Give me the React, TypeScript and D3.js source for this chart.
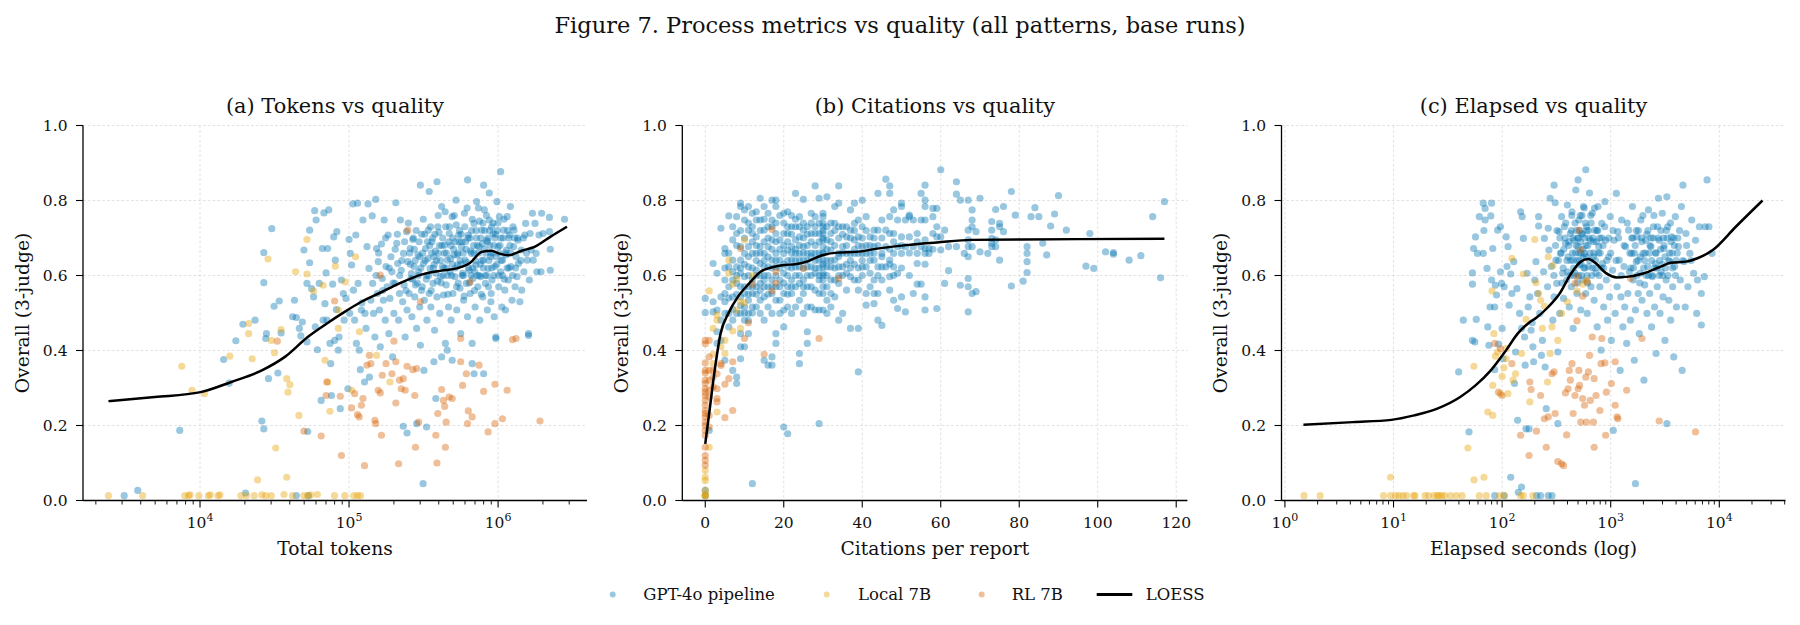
import React from 'react';
import * as d3 from 'd3';

const FONT = '"DejaVu Serif", serif';
const COLORS: Record<string, string> = { gpt: '#0072B2', local: '#E69F00', rl: '#D55E00' };
const SERIES = [
  { key: 'gpt', name: 'GPT-4o pipeline' },
  { key: 'local', name: 'Local 7B' },
  { key: 'rl', name: 'RL 7B' },
];
const Y_TICKS = [0, 0.2, 0.4, 0.6, 0.8, 1.0];
const SUPTITLE = 'Figure 7. Process metrics vs quality (all patterns, base runs)';
const Y_LABEL = 'Overall (3-judge)';

// ---------- Panel (a): total tokens vs quality ----------
const aGpt: [number, number][] = [
  [3100,.013],[3820,.027],[7310,.187],[15700,.313],[14400,.376],[17400,.426],[19400,.47],[23400,.481],[20200,.02],[26800,.581],[26800,.661],[30300,.725],[26000,.212],[26800,.191],[27600,.432],[27900,.445],[28800,.325],[31400,.518],[34000,.532],[35000,.447],[33300,.34],[44300,.013],[41800,.49],[43000,.534],[44300,.488],[46400,.459],[47500,.439],[48600,.476],[49800,.668],[52200,.579],[52200,.423],[52800,.184],[53500,.013],[54400,.721],[54400,.634],[56100,.565],[57800,.543],[58800,.773],[59400,.463],[60100,.748],[61300,.402],[63100,.579],[65000,.267],[66200,.672],[67000,.481],[67800,.767],[68900,.525],[70100,.607],[71000,.481],[71800,.672],[73100,.775],[74500,.419],[75300,.365],[76200,.28],[77600,.577],[78900,.703],[80000,.427],[80900,.641],[82200,.509],[82800,.717],[84700,.401],[85700,.436],[87300,.245],[88900,.588],[91600,.552],[92700,.481],[95300,.539],[98200,.298],[100000,.696],[101000,.499],[102000,.659],[104000,.628],[106000,.791],[107000,.561],[109000,.481],[111000,.708],[112000,.419],[114000,.793],[115000,.579],[117000,.401],[119000,.349],[121000,.508],[122000,.527],[124000,.748],[127000,.316],[128000,.499],[130000,.459],[132000,.677],[134000,.791],[136000,.619],[137000,.329],[140000,.534],[143000,.759],[144000,.579],[146000,.499],[149000,.436],[151000,.803],[153000,.672],[155000,.552],[157000,.637],[160000,.508],[162000,.41],[165000,.684],[167000,.592],[170000,.534],[172000,.748],[175000,.481],[177000,.624],[180000,.57],[183000,.708],[185000,.445],[188000,.539],[191000,.65],[194000,.61],[196000,.383],[200000,.499],[203000,.579],[206000,.794],[209000,.686],[212000,.632],[215000,.481],[218000,.552],[221000,.748],[224000,.614],[229000,.53],[232000,.659],[234000,.575],[238000,.436],[243000,.717],[245000,.508],[248000,.637],[253000,.552],[257000,.672],[260000,.592],[264000,.49],[268000,.696],[273000,.624],[276000,.543],[279000,.575],[284000,.459],[290000,.655],[293000,.61],[298000,.516],[301000,.841],[301000,.414],[307000,.71],[310000,.57],[314000,.045],[316000,.632],[320000,.534],[326000,.672],[330000,.59],[333000,.481],[340000,.721],[345000,.552],[345000,.824],[350000,.619],[354000,.516],[360000,.69],[366000,.579],[371000,.65],[375000,.454],[382000,.606],[389000,.85],[389000,.543],[394000,.73],[398000,.659],[406000,.499],[412000,.597],[418000,.784],[423000,.624],[430000,.548],[438000,.681],[443000,.419],[448000,.575],[456000,.641],[465000,.516],[470000,.712],[475000,.61],[484000,.481],[492000,.757],[498000,.552],[505000,.655],[513000,.597],[522000,.801],[528000,.508],[535000,.628],[544000,.708],[555000,.566],[561000,.445],[568000,.677],[578000,.606],[587000,.534],[594000,.766],[601000,.641],[612000,.579],[624000,.855],[624000,.49],[631000,.708],[638000,.614],[650000,.552],[662000,.659],[670000,.365],[678000,.592],[689000,.739],[701000,.516],[710000,.628],[718000,.797],[731000,.57],[745000,.677],[753000,.481],[762000,.597],[776000,.721],[789000,.543],[800000,.841],[800000,.641],[809000,.775],[822000,.579],[838000,.694],[847000,.508],[857000,.619],[873000,.82],[873000,.748],[889000,.65],[899000,.552],[910000,.588],[927000,.712],[942000,.49],[953000,.624],[966000,.432],[982000,.797],[1000000,.677],[1010000,.57],[1020000,.757],[1040000,.877],[1040000,.61],[1060000,.516],[1070000,.641],[1090000,.721],[1110000,.561],[1120000,.508],[1140000,.668],[1150000,.757],[1170000,.588],[1190000,.708],[1210000,.784],[1220000,.624],[1240000,.534],[1270000,.677],[1280000,.721],[1300000,.57],[1320000,.65],[1340000,.597],[1360000,.694],[1370000,.632],[1400000,.53],[1430000,.668],[1440000,.561],[1490000,.61],[1510000,.708],[1530000,.739],[1570000,.641],[1600000,.445],[1620000,.588],[1640000,.712],[1670000,.668],[1700000,.766],[1720000,.641],[1770000,.739],[1800000,.659],[1820000,.61],[1880000,.708],[1940000,.61],[1960000,.766],[2000000,.712],[2210000,.755],[2210000,.717],[2240000,.67],[2240000,.614],[2790000,.75],
  [231000,.198],[245000,.18],[284000,.205],[331000,.196],[382000,.272],[318000,.347],[371000,.37],[418000,.383],[456000,.401],[492000,.374],[670000,.419],[800000,.338],[690000,.338],[966000,.436],[1600000,.44],
  [255000,.66],[262000,.605],[270000,.7],[278000,.64],[287000,.58],[295000,.69],[303000,.62],[312000,.66],[322000,.71],[332000,.6],[338000,.645],[348000,.68],[356000,.56],[364000,.7],[373000,.63],[380000,.665],[392000,.585],[401000,.715],[410000,.64],[420000,.68],[428000,.6],[436000,.66],[445000,.73],[452000,.62],[461000,.55],[468000,.69],[480000,.645],[488000,.6],[496000,.7],[503000,.67],[515000,.62],[524000,.735],[532000,.655],[540000,.58],[548000,.69],[557000,.64],[566000,.71],[575000,.6],[583000,.66],[592000,.545],[605000,.69],[615000,.635],[628000,.7],[640000,.58],[655000,.665],[665000,.72],[675000,.62],[685000,.68],[695000,.56],[705000,.64],[715000,.7],[728000,.6],[740000,.66],[750000,.745],[760000,.63],[772000,.55],[785000,.685],[795000,.62],[812000,.72],[826000,.66],[840000,.6],[855000,.7],[868000,.64],[880000,.68],[895000,.53],[905000,.73],[920000,.66],[935000,.6],[950000,.7],[970000,.65],[990000,.72],[1005000,.6],[1030000,.68],[1050000,.64],[1080000,.7],[1100000,.59],[1130000,.655],[1160000,.72],[1180000,.62],[1200000,.68],[1250000,.6],[1290000,.7],
  [152000,.6],[158000,.66],[168000,.56],[176000,.7],[186000,.62],[197000,.58],[204000,.67],[211000,.71],[219000,.6],[226000,.64],[236000,.69],[241000,.56],[250000,.74],[258000,.63],[266000,.59],[274000,.67],[282000,.72],[291000,.6],[299000,.65],[306000,.56],[315000,.75],[324000,.64],[336000,.69],[342000,.6],[352000,.73],[358000,.66],[368000,.62],[377000,.71],[386000,.64],[396000,.76],[404000,.68],[414000,.58],[425000,.7],[433000,.62],[441000,.77],[450000,.66],[458000,.6],[472000,.73],[483000,.68],[494000,.63],[508000,.76],[518000,.69],[527000,.57],[538000,.66],[551000,.72],[563000,.63],[572000,.69],[586000,.6],[598000,.73],[610000,.67],[620000,.78],[634000,.62],[647000,.7],[659000,.6],[672000,.75],[687000,.66],[698000,.61],[712000,.72],[725000,.68],[738000,.78],[748000,.6],[766000,.7],[779000,.64],[792000,.74],[806000,.67],[820000,.6],[836000,.76],[850000,.69],[862000,.57],[876000,.72],[892000,.66],[908000,.62],[925000,.74],[940000,.68],[960000,.71],[980000,.63],[998000,.74],[1020000,.66],[1045000,.7],[1070000,.6],[1095000,.75],[1120000,.66],[1150000,.62],[1180000,.7],[1215000,.66],[1260000,.73],[1310000,.62],[1350000,.7],[1420000,.64],[1480000,.7],[1550000,.66],
];
const aLocal: [number, number][] = [
  [2430,.013],[4120,.013],[7900,.013],[8380,.013],[8580,.015],[9830,.013],[11370,.013],[11730,.015],[13200,.013],[13600,.015],[18800,.013],[20500,.013],[23100,.013],[26000,.015],[27600,.013],[30100,.013],[36600,.016],[41700,.013],[49800,.013],[52800,.013],[55400,.015],[61300,.016],[79900,.013],[93700,.013],[107400,.013],[113900,.013],[119400,.013],
  [7540,.358],[8840,.294],[10700,.285],[15850,.385],[21200,.445],[22400,.378],[24300,.055],[28600,.644],[31600,.394],[32200,.14],[35000,.456],[38200,.325],[38900,.289],[40100,.309],[38200,.062],[46100,.227],[43800,.61],[52200,.696],[52200,.604],[57800,.559],[67000,.574],[68900,.374],[71800,.316],[74400,.238],[80900,.625],[84800,.508],[84800,.459],[94200,.583],[110600,.65],[117300,.45],[104200,.294],[153000,.387],[188000,.316],[21200,.472],[30100,.427],
];
const aRl: [number, number][] = [
  [33000,.425],[49800,.185],[65000,.172],[71000,.316],[70200,.28],[80000,.532],[87300,.278],[88900,.12],[104000,.247],[109000,.285],[114000,.229],[117000,.223],[121000,.254],[124000,.272],[127000,.093],[132000,.361],[137000,.387],[140000,.365],[149000,.214],[151000,.205],[157000,.294],[162000,.287],[165000,.174],[167000,.334],[162000,.601],[177000,.365],[200000,.425],[194000,.338],[206000,.37],[206000,.26],[215000,.098],[218000,.321],[224000,.298],[231000,.325],[238000,.294],[245000,.358],[248000,.721],[268000,.349],[276000,.28],[279000,.142],[284000,.352],[293000,.209],[301000,.53],[382000,.174],[389000,.1],[394000,.232],[418000,.296],[430000,.267],[438000,.251],[443000,.142],[448000,.209],[470000,.276],[492000,.272],[561000,.37],[578000,.307],[612000,.338],[624000,.205],[631000,.239],[650000,.583],[670000,.223],[745000,.361],[800000,.291],[857000,.183],[953000,.31],[953000,.205],[1070000,.218],[1150000,.294],[1250000,.429],[1320000,.432],[1910000,.212],[561000,.432],
];
const aLoess: [number, number][] = [
  [2430,.265],[4980,.276],[10100,.289],[16200,.316],[26000,.347],[37100,.383],[52800,.436],[71000,.472],[90000,.499],[121000,.53],[162000,.554],[218000,.579],[310000,.603],[418000,.613],[528000,.619],[650000,.634],[776000,.663],[899000,.666],[1010000,.659],[1170000,.654],[1440000,.666],[1770000,.677],[2240000,.703],[2900000,.73],
];
const aXLimits = [1640, 3.95e6];
const aXTicks = [1e4, 1e5, 1e6];

// ---------- Panel (b): citations vs quality (columns: citations -> scores) ----------
const bGptCols: [number, number[]][] = [
  [0,[.539,.501,.027,.013]],[1,[.187]],[2,[.632,.53,.503]],[3,[.606,.45,.419,.508]],[4,[.726,.543,.481,.427]],
  [5,[.672,.659,.588,.552,.499,.374]],[6,[.759,.623,.57,.499,.463]],[7,[.73,.695,.641,.588,.543,.481,.347]],
  [8,[.757,.712,.623,.579,.499,.329,.312]],[9,[.793,.784,.677,.641,.606,.543,.499,.445,.41,.378]],
  [10,[.775,.748,.659,.597,.552,.516,.481,.41]],[11,[.784,.721,.677,.623,.57,.534,.499,.445]],
  [12,[.766,.712,.659,.588,.552,.516,.045]],[13,[.748,.703,.659,.614,.57,.516]],[14,[.806,.748,.677,.632,.579,.534,.499]],
  [15,[.784,.721,.659,.623,.588,.543,.481,.374]],[16,[.766,.73,.677,.623,.57,.516,.361]],
  [17,[.801,.748,.695,.641,.588,.552,.499,.383,.361]],[18,[.801,.784,.712,.659,.623,.534,.445,.419]],
  [19,[.695,.641,.588,.534,.499]],[20,[.766,.712,.659,.606,.552,.508,.463,.196]],[21,[.77,.712,.668,.623,.57,.516,.178]],
  [22,[.73,.677,.641,.588,.552,.499]],[23,[.819,.73,.695,.659,.623,.57,.516]],[24,[.757,.703,.659,.623,.579,.534,.392,.365]],
  [25,[.803,.721,.677,.641,.588,.552,.499]],[26,[.73,.659,.623,.57,.516,.45,.419]],[27,[.766,.712,.65,.623,.57,.516]],
  [28,[.839,.757,.712,.659,.606,.561,.508]],[29,[.806,.712,.641,.588,.552,.508,.205]],
  [30,[.766,.757,.739,.73,.712,.695,.677,.659,.641,.623,.606,.588,.57,.552,.508]],
  [31,[.81,.695,.623,.57,.534,.499]],[32,[.712,.668,.623,.588,.552,.516]],[33,[.784,.739,.641,.588,.543]],
  [34,[.839,.793,.73,.659,.623,.579,.481]],[35,[.73,.677,.623,.499]],[36,[.703,.659,.606,.561]],
  [37,[.775,.721,.659,.597,.459]],[38,[.793,.739,.695,.659,.588]],[39,[.748,.703,.659,.588,.561,.459,.343]],
  [40,[.801,.73,.677,.659,.623]],[41,[.757,.659,.623,.552,.521]],[42,[.703,.659,.606,.57]],
  [43,[.721,.677,.641,.588,.552,.525]],[44,[.819,.721,.623,.552,.481]],[45,[.748,.659,.623,.588,.467]],
  [46,[.857,.721,.677,.623]],[47,[.839,.819,.757,.712,.641,.597,.561]],[48,[.775,.712,.659,.623,.534]],
  [49,[.748,.677,.606,.512]],[50,[.793,.784,.703,.659,.543]],[51,[.748,.677,.503]],[52,[.761,.757,.703]],
  [53,[.748,.677,.552]],[54,[.712,.659,.632,.577]],[55,[.819,.748,.677,.577]],
  [56,[.841,.801,.784,.748,.695,.672,.659,.543,.508]],[57,[.672,.659]],[58,[.779,.757,.712]],[59,[.779,.73,.703,.512]],
  [60,[.882,.703,.668]],[61,[.721,.579]],[62,[.677,.613]],[64,[.85,.817,.677]],[65,[.801,.574]],[66,[.659]],
  [67,[.801,.721,.695,.677,.65,.592,.57,.503]],[68,[.775,.748,.73,.677,.552]],[69,[.717,.557]],[70,[.806,.663]],
  [72,[.659]],[73,[.744,.721,.699,.686,.677]],[74,[.776,.695,.677]],[75,[.739,.73,.641]],[76,[.784,.717]],
  [78,[.824,.572]],[79,[.761]],[81,[.585]],[82,[.677,.659,.637,.608]],[83,[.757]],[84,[.781]],[85,[.757]],
  [86,[.686]],[87,[.655]],[88,[.732]],[89,[.764]],[90,[.813]],[92,[.721]],[97,[.625]],[98,[.712]],[99,[.619]],
  [102,[.663]],[104,[.661,.657]],[108,[.641]],[111,[.653]],[114,[.757]],[116,[.594]],[117,[.797]],
];
const bGptColsDense: [number, number[]][] = [
  [5,[.62,.53]],[6,[.66,.54]],[7,[.61,.51]],[8,[.68,.55,.6]],[9,[.72,.62,.57,.52]],[10,[.7,.63,.57,.5]],
  [11,[.74,.65,.6,.55,.48]],[12,[.73,.69,.62,.57,.5]],[13,[.77,.68,.64,.6,.55]],[14,[.72,.66,.6,.56]],
  [15,[.75,.69,.64,.6,.57]],[16,[.7,.65,.6,.55]],[17,[.73,.67,.62,.57]],[18,[.74,.69,.64,.6,.57]],
  [19,[.76,.67,.62,.57]],[20,[.74,.68,.63,.58]],[21,[.73,.69,.64,.6,.55]],[22,[.76,.71,.66,.62,.57]],
  [23,[.75,.67,.64,.6]],[24,[.73,.68,.64,.6]],[25,[.74,.7,.66,.62,.57]],[26,[.71,.68,.64,.6]],
  [27,[.74,.69,.66,.6]],[28,[.73,.68,.64,.62]],[29,[.74,.69,.66,.62,.6]],[30,[.72,.7,.66,.63,.6]],
  [31,[.73,.67,.64,.6]],[32,[.74,.69,.64]],[33,[.72,.68,.62]],[34,[.7,.65,.6]],[35,[.71,.66,.6]],
  [36,[.73,.68,.63]],[37,[.7,.64,.62]],[38,[.72,.67,.63]],[39,[.68,.62]],[40,[.7,.64,.6]],[41,[.72,.68]],
  [42,[.68,.64]],[43,[.7,.66]],[44,[.68,.6]],[45,[.7,.65]],[47,[.67,.63]],[48,[.69,.6]],[50,[.68,.62]],
  [52,[.66,.6]],[54,[.69]],[56,[.63]],[58,[.67]],
];
const bLocalCols: [number, number[]][] = [
  [0,[.013,.013,.015,.027,.053,.062,.08]],[1,[.559,.142]],[2,[.39,.365,.459]],[3,[.236,.481,.495]],[4,[.41]],
  [5,[.392,.427]],[6,[.606,.641]],[7,[.452,.577]],[8,[.508,.59]],[9,[.53,.459]],[10,[.695,.527]],[12,[.6]],
];
const bRlCols: [number, number[]][] = [
  [0,[.427,.418,.367,.347,.34,.321,.312,.298,.289,.28,.267,.254,.24,.232,.223,.209,.2,.187,.174,.142,.12,.107,.094]],
  [1,[.427,.383,.347,.321,.294,.276,.227,.196]],[2,[.347,.329,.303]],[3,[.338,.298,.272,.263]],[4,[.365,.36]],
  [5,[.31,.221]],[6,[.325]],[7,[.37,.24]],[9,[.672]],[10,[.432]],[11,[.474]],[12,[.577]],[15,[.39]],
  [17,[.723,.559]],[18,[.61,.58]],[25,[.619]],[29,[.432]],[34,[.592]],
];
const bLoess: [number, number][] = [
  [0,.151],[1,.232],[2.4,.347],[3.9,.445],[5.9,.499],[8.3,.543],[11.2,.579],[14.1,.61],[17.1,.622],[20,.628],[22.9,.63],[25.9,.637],[29.8,.654],[33.7,.661],[38.5,.663],[43.4,.671],[51.2,.681],[59,.688],[67.8,.695],[80.5,.696],[95.1,.697],[117,.698],
];
const bXLimits = [-5.85, 122.85];
const bXTicks = [0, 20, 40, 60, 80, 100, 120];

// ---------- Panel (c): elapsed seconds vs quality ----------
const cGpt: [number, number][] = [
  [53.3,.577],[53.3,.607],[54.6,.672],[56,.423],[56.9,.703],[57.8,.483],[61.7,.757],[67,.793],[67,.659],[69.7,.779],[69.7,.748],[68,.72],[72.6,.619],[73.8,.463],[75.5,.414],[77.4,.516],[78.7,.759],[80,.793],[80,.588],[82,.672],[85.4,.516],[85.4,.349],[86.7,.574],[88.9,.548],[91,.721],[92.6,.417],[96.5,.73],[96.5,.61],[98.8,.579],[100,.459],[102,.378],[104.5,.57],[109,.703],[111,.624],[113.5,.677],[116,.521],[120,.604],[123,.552],[128,.637],[130,.312],[133,.396],[137,.565],[139,.214],[141,.022],[145,.499],[148,.77],[151,.459],[153,.757],[157,.699],[161,.436],[163,.361],[166,.191],[170,.606],[174,.516],[177,.191],[180,.543],[185,.454],[189,.474],[192,.41],[195,.37],[200,.588],[205,.637],[208,.013],[212,.552],[217,.757],[217,.732],[222,.499],[226,.013],[230,.387],[235,.427],[241,.61],[245,.699],[249,.356],[255,.245],[262,.57],[266,.726],[266,.013],[270,.668],[277,.806],[284,.624],[288,.013],[293,.481],[301,.841],[301,.543],[308,.794],[313,.641],[318,.579],[326,.396],[334,.717],[339,.499],[344,.659],[353,.757],[361,.606],[368,.539],[374,.73],[383,.686],[393,.588],[399,.788],[405,.65],[415,.516],[425,.712],[433,.57],[440,.77],[451,.641],[451,.459],[461,.694],[469,.606],[477,.828],[489,.552],[501,.677],[501,.855],[509,.748],[517,.628],[530,.508],[543,.712],[552,.588],[561,.784],[574,.659],[589,.552],[589,.882],[598,.73],[608,.499],[623,.624],[638,.82],[649,.694],[659,.57],[676,.766],[693,.65],[704,.534],[716,.721],[733,.606],[751,.463],[764,.784],[776,.677],[795,.57],[815,.401],[828,.739],[841,.632],[862,.516],[884,.797],[898,.694],[912,.588],[935,.481],[958,.65],[975,.543],[991,.757],[1014,.427],[1040,.614],[1056,.187],[1074,.694],[1100,.499],[1127,.819],[1146,.57],[1164,.717],[1194,.641],[1222,.347],[1242,.543],[1262,.748],[1294,.463],[1325,.624],[1346,.516],[1370,.677],[1403,.419],[1438,.552],[1462,.721],[1486,.61],[1521,.481],[1559,.659],[1585,.784],[1611,.588],[1651,.374],[1690,.045],[1690,.508],[1718,.637],[1746,.703],[1790,.552],[1835,.445],[1864,.606],[1895,.748],[1941,.534],[1990,.659],[2023,.321],[2055,.575],[2105,.694],[2158,.499],[2193,.624],[2228,.775],[2285,.552],[2344,.677],[2377,.463],[2417,.597],[2477,.73],[2536,.516],[2577,.632],[2618,.392],[2685,.57],[2752,.806],[2798,.694],[2844,.499],[2913,.61],[2985,.766],[3033,.543],[3083,.672],[3160,.427],[3238,.588],[3290,.81],[3290,.205],[3343,.73],[3427,.534],[3511,.637],[3567,.481],[3629,.703],[3718,.57],[3807,.383],[3872,.624],[3935,.757],[4031,.516],[4198,.677],[4373,.588],[4479,.784],[4550,.347],[4624,.841],[4739,.637],[4857,.516],[4935,.712],[5140,.57],[5357,.659],[5575,.748],[5807,.606],[6040,.694],[6192,.499],[6295,.588],[6558,.73],[6830,.552],[6830,.468],[7283,.597],[7410,.73],[7711,.855],[8030,.73],[8570,.659],
  [39.8,.343],[43.9,.481],[49.6,.183],[53.3,.427],[59.3,.659],[120,.062],[85.4,.013],[104.5,.013],[151,.036],[326,.205],
  [350,.66],[365,.62],[380,.7],[395,.64],[410,.68],[420,.6],[435,.72],[445,.66],[455,.62],[470,.74],[480,.68],[490,.64],[498,.7],[505,.6],[512,.66],[520,.72],[528,.69],[535,.63],[545,.76],[555,.67],[565,.62],[575,.7],[585,.74],[595,.65],[605,.6],[615,.68],[625,.72],[640,.64],[655,.76],[670,.6],[685,.7],[700,.66],[720,.62],[740,.69],[760,.72],[780,.6],[800,.66],[830,.7],[860,.62],[1500,.66],[1560,.7],[1620,.62],[1680,.68],[1740,.6],[1800,.72],[1870,.65],[1940,.69],[2010,.62],[2080,.66],[2150,.71],[2230,.6],[2300,.68],[2380,.64],[2460,.7],[2540,.62],[2620,.66],[2700,.73],[2790,.6],[2880,.67],[2970,.63],[3060,.7],[3160,.65],[3260,.72],[3360,.6],[3480,.66],[3600,.69],[3720,.62],[3850,.68],[4000,.64],[4150,.7],
  [300,.6],[310,.68],[320,.72],[330,.64],[340,.7],[355,.58],[370,.67],[385,.74],[400,.61],[412,.69],[428,.64],[438,.76],[448,.7],[460,.6],[474,.66],[484,.72],[494,.58],[503,.7],[515,.64],[524,.76],[532,.66],[540,.6],[550,.71],[560,.65],[570,.78],[580,.62],[592,.68],[602,.72],[612,.58],[630,.7],[645,.66],[660,.74],[680,.62],[695,.69],[710,.78],[725,.64],[745,.72],[770,.66],[790,.7],[820,.62],[850,.68],[880,.73],[920,.64],[960,.7],[1000,.66],[1050,.72],[1120,.64],[1180,.7],[1250,.6],[1330,.68],[1420,.74],[1530,.62],[1600,.7],[1650,.66],[1720,.72],[1780,.64],[1850,.58],[1920,.7],[1980,.76],[2050,.64],[2120,.6],[2200,.72],[2270,.66],[2350,.7],[2420,.6],[2500,.76],[2580,.66],[2660,.62],[2740,.7],[2820,.64],[2900,.72],[3000,.6],[3100,.68],[3200,.62],[3300,.7],[3420,.64],[3550,.74],[3680,.66],[3800,.7],[3950,.6],[4100,.66],[4300,.72],[4600,.64],[5000,.68],[5500,.64],
];
const cLocal: [number, number][] = [
  [1.5,.013],[2.11,.013],[8.1,.013],[9.4,.013],[10.4,.013],[11.2,.013],[12.2,.013],[13.2,.013],[15.3,.013],[15.8,.013],[19.5,.013],[21.1,.013],[23.7,.013],[25.3,.013],[26.3,.013],[27.9,.013],[29.7,.013],[33.6,.013],[37.9,.013],[42.8,.013],[61.7,.013],[71.4,.013],[94.1,.013],[104.5,.013],[148,.013],[157,.013],[192,.013],
  [9.4,.062],[55.1,.055],[68,.062],[48.4,.14],[55,.358],[73.8,.236],[82,.227],[80.7,.559],[82,.307],[84,.445],[86.7,.385],[91,.396],[96.5,.285],[100,.331],[104,.354],[109,.378],[113,.285],[109,.405],[123,.646],[126,.321],[133,.338],[151,.392],[157,.604],[166,.483],[180,.263],[200,.696],[205,.581],[217,.552],[226,.534],[235,.459],[245,.518],[262,.316],[266,.65],[277,.392],[288,.463],[293,.627],[326,.427],[353,.499],[399,.53],[489,.559],[552,.577],[598,.588],
];
const cRl: [number, number][] = [
  [85.4,.419],[96.5,.405],[92.6,.289],[100,.28],[123,.365],[148,.174],[177,.12],[180,.316],[185,.296],[207,.185],[226,.28],[245,.218],[255,.142],[266,.223],[288,.338],[301,.343],[308,.232],[326,.104],[353,.098],[368,.093],[383,.287],[393,.175],[405,.298],[415,.347],[425,.321],[440,.365],[451,.232],[469,.28],[489,.479],[501,.298],[509,.347],[517,.307],[530,.209],[552,.272],[574,.254],[589,.329],[598,.209],[623,.343],[638,.387],[649,.267],[676,.436],[693,.209],[704,.325],[733,.28],[795,.24],[815,.365],[828,.432],[884,.367],[898,.174],[704,.142],[912,.289],[1014,.312],[1100,.37],[1146,.223],[1164,.218],[1100,.254],[1403,.294],[1521,.592],[1941,.432],[2798,.212],[6040,.183],[509,.721],[530,.668],[489,.597],[469,.579],[552,.545],[608,.583],
];
const cLoess: [number, number][] = [
  [1.48,.202],[4.24,.209],[9.55,.215],[15.5,.227],[25.3,.245],[41.1,.276],[56.9,.307],[78.7,.347],[109,.401],[139,.445],[177,.474],[208,.488],[266,.516],[339,.552],[433,.606],[530,.637],[623,.644],[733,.632],[898,.607],[1146,.595],[1462,.597],[2023,.606],[2798,.622],[3567,.634],[4935,.637],[6295,.646],[8710,.668],[14190,.73],[25000,.8],
];
const cXLimits = [0.93, 40700];
const cXTicks = [1, 10, 100, 1000, 10000];

const flatten = (cols: [number, number[]][]): [number, number][] =>
  cols.flatMap(([x, ys]) => ys.map((y) => [x, y] as [number, number]));

// ---------- layout ----------
const W = 1800;
const H = 625;
const PLOT_TOP = 125.5;
const PLOT_BOTTOM = 500.5;
const TICK_FS = 15.5;
const LABEL_FS = 18.7;
const TITLE_FS = 20.9;
const SUPTITLE_FS = 22.5;
const LEGEND_FS = 16.5;

type PanelDef = {
  left: number;
  right: number;
  title: string;
  xlabel: string;
  log: boolean;
  limits: number[];
  ticks: number[];
  gpt: [number, number][];
  local: [number, number][];
  rl: [number, number][];
  loess: [number, number][];
};

const PANELS: PanelDef[] = [
  { left: 83, right: 587, title: '(a) Tokens vs quality', xlabel: 'Total tokens', log: true, limits: aXLimits, ticks: aXTicks, gpt: aGpt, local: aLocal, rl: aRl, loess: aLoess },
  { left: 682.3, right: 1187.4, title: '(b) Citations vs quality', xlabel: 'Citations per report', log: false, limits: bXLimits, ticks: bXTicks, gpt: [...flatten(bGptCols), ...flatten(bGptColsDense)], local: flatten(bLocalCols), rl: flatten(bRlCols), loess: bLoess },
  { left: 1281.5, right: 1785.5, title: '(c) Elapsed vs quality', xlabel: 'Elapsed seconds (log)', log: true, limits: cXLimits, ticks: cXTicks, gpt: cGpt, local: cLocal, rl: cRl, loess: cLoess },
];

function Panel({ p }: { p: PanelDef }) {
  const x = p.log
    ? d3.scaleLog().domain(p.limits).range([p.left, p.right])
    : d3.scaleLinear().domain(p.limits).range([p.left, p.right]);
  const y = d3.scaleLinear().domain([0, 1]).range([PLOT_BOTTOM, PLOT_TOP]);
  const minor: number[] = [];
  if (p.log) {
    const lo = Math.floor(Math.log10(p.limits[0]));
    const hi = Math.ceil(Math.log10(p.limits[1]));
    for (let k = lo; k <= hi; k++) {
      for (let m = 2; m <= 9; m++) {
        const v = m * Math.pow(10, k);
        if (v >= p.limits[0] && v <= p.limits[1]) minor.push(v);
      }
    }
  }
  const line = d3
    .line<[number, number]>()
    .x((d) => x(d[0]))
    .y((d) => y(d[1]))
    .curve(d3.curveMonotoneX);
  const cx = (p.left + p.right) / 2;
  const gridStyle = { stroke: '#d9d9d9', strokeWidth: 0.8, strokeDasharray: '2.6,2.2' };
  const dot = (data: [number, number][], color: string, key: string) => (
    <g key={key}>
      {data.map((d, i) => (
        <circle key={i} cx={x(d[0])} cy={y(d[1])} r={3.6} fill={color} fillOpacity={0.4} />
      ))}
    </g>
  );
  return (
    <g>
      {p.ticks.map((t) => (
        <line key={'gx' + t} x1={x(t)} x2={x(t)} y1={PLOT_TOP} y2={PLOT_BOTTOM} {...gridStyle} />
      ))}
      {Y_TICKS.map((t) => (
        <line key={'gy' + t} x1={p.left} x2={p.right} y1={y(t)} y2={y(t)} {...gridStyle} />
      ))}
      {dot(p.gpt, COLORS.gpt, 'gpt')}
      {dot(p.local, COLORS.local, 'local')}
      {dot(p.rl, COLORS.rl, 'rl')}
      <path d={line(p.loess) || ''} fill="none" stroke="#000" strokeWidth={2.5} strokeLinejoin="round" />
      <line x1={p.left} x2={p.left} y1={PLOT_TOP} y2={PLOT_BOTTOM} stroke="#000" strokeWidth={1.3} />
      <line x1={p.left} x2={p.right} y1={PLOT_BOTTOM} y2={PLOT_BOTTOM} stroke="#000" strokeWidth={1.3} />
      {Y_TICKS.map((t) => (
        <g key={'yt' + t}>
          <line x1={p.left - 7} x2={p.left} y1={y(t)} y2={y(t)} stroke="#000" strokeWidth={1.1} />
          <text x={p.left - 15.5} y={y(t)} dy="0.35em" textAnchor="end" fontSize={TICK_FS} fontFamily={FONT} fill="#111">
            {t.toFixed(1)}
          </text>
        </g>
      ))}
      {minor.map((t) => (
        <line key={'mx' + t} x1={x(t)} x2={x(t)} y1={PLOT_BOTTOM} y2={PLOT_BOTTOM + 4} stroke="#000" strokeWidth={0.9} />
      ))}
      {p.ticks.map((t) => (
        <g key={'xt' + t}>
          <line x1={x(t)} x2={x(t)} y1={PLOT_BOTTOM} y2={PLOT_BOTTOM + 7} stroke="#000" strokeWidth={1.1} />
          {p.log ? (
            <text x={x(t)} y={528} textAnchor="middle" fontSize={TICK_FS} fontFamily={FONT} fill="#111">
              10
              <tspan dy={-7} fontSize={11}>{Math.round(Math.log10(t))}</tspan>
            </text>
          ) : (
            <text x={x(t)} y={528} textAnchor="middle" fontSize={TICK_FS} fontFamily={FONT} fill="#111">
              {t}
            </text>
          )}
        </g>
      ))}
      <text x={cx} y={555} textAnchor="middle" fontSize={LABEL_FS} fontFamily={FONT} fill="#111">
        {p.xlabel}
      </text>
      <text
        transform={`translate(${p.left - 61},${(PLOT_TOP + PLOT_BOTTOM) / 2}) rotate(-90)`}
        textAnchor="middle"
        dy="0.35em"
        fontSize={LABEL_FS}
        fontFamily={FONT}
        fill="#111"
      >
        {Y_LABEL}
      </text>
      <text x={cx} y={113} textAnchor="middle" fontSize={TITLE_FS} fontFamily={FONT} fill="#111">
        {p.title}
      </text>
    </g>
  );
}

function Legend() {
  const yc = 594.5;
  const items = [
    { key: 'gpt', mx: 612.7, tx: 643.3 },
    { key: 'local', mx: 826.7, tx: 858 },
    { key: 'rl', mx: 981.7, tx: 1011.7 },
  ];
  return (
    <g>
      {items.map((it, i) => (
        <g key={it.key}>
          <circle cx={it.mx} cy={yc} r={3} fill={COLORS[it.key]} fillOpacity={0.4} />
          <text x={it.tx} y={yc} dy="0.35em" fontSize={LEGEND_FS} fontFamily={FONT} fill="#111">
            {SERIES[i].name}
          </text>
        </g>
      ))}
      <line x1={1096.7} x2={1132.3} y1={yc} y2={yc} stroke="#000" strokeWidth={3} />
      <text x={1145.7} y={yc} dy="0.35em" fontSize={LEGEND_FS} fontFamily={FONT} fill="#111">
        LOESS
      </text>
    </g>
  );
}

export default function App() {
  return (
    <svg
      width={W}
      height={H}
      viewBox={`0 0 ${W} ${H}`}
      style={{ position: 'absolute', left: 0, top: 0, background: '#fff' }}
    >
      <rect width={W} height={H} fill="#fff" />
      <text x={W / 2} y={33} textAnchor="middle" fontSize={SUPTITLE_FS} fontFamily={FONT} fill="#111">
        {SUPTITLE}
      </text>
      {PANELS.map((p) => (
        <Panel key={p.title} p={p} />
      ))}
      <Legend />
    </svg>
  );
}
